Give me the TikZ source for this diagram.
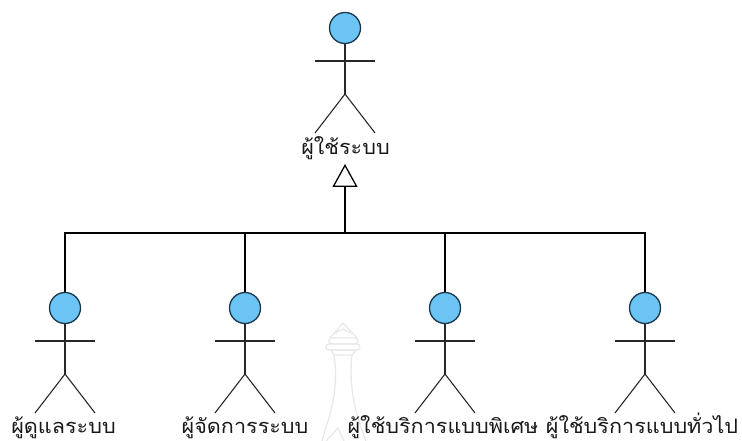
\documentclass[tikz,border=0pt]{standalone}
\usepackage{fontspec}
\newfontfamily\thaifont[Script=Thai,FakeStretch=1.08]{Loma}
\usetikzlibrary{arrows.meta}
\definecolor{headblue}{RGB}{108,196,245}
\definecolor{headline}{RGB}{25,55,75}
\definecolor{limb}{RGB}{40,40,40}
\definecolor{wm}{RGB}{232,232,232}
\tikzset{
  head/.style={circle,draw=headline,fill=headblue,line width=1.3pt,minimum size=31pt,inner sep=0pt},
  limbline/.style={draw=limb,line width=1.1pt},
  wire/.style={draw=black,line width=1.1pt},
  actorlabel/.style={font=\thaifont\fontsize{20}{20}\selectfont,inner sep=0pt,anchor=base,text=black!90},
  watermark/.style={draw=wm,line width=1.3pt,line join=round}
}
\newcommand{\actor}[6]{%
  % #1 name, #2 x, #3 head y, #4 label, #5 label baseline y, #6 label x
  \node[head] (#1) at (#2,#3) {};
  \coordinate (#1arml) at (#2-30,#3+33);
  \coordinate (#1armr) at (#2+30,#3+33);
  \coordinate (#1hip) at (#2,#3+66);
  \coordinate (#1legl) at (#2-30,#3+105);
  \coordinate (#1legr) at (#2+30,#3+105);
  \draw[limbline] (#1.south) -- (#1hip);
  \draw[limbline] (#1arml) -- (#1armr);
  \draw[limbline] (#1legl) -- (#1hip) -- (#1legr);
  \node[actorlabel] (#1label) at (#6,#5) {#4};
}
\begin{document}
\begin{tikzpicture}[x=1pt,y=-1pt]
\useasboundingbox (0,0) rectangle (742,441);
% watermark
\draw[watermark] (330,338) -- (343,323) -- (357,338);
\draw[watermark] (335,333) -- (343,329) -- (351,333);
\draw[watermark,rounded corners=3pt] (329,338) rectangle (358,344);
\draw[watermark,rounded corners=3pt] (326,344) rectangle (360,350);
\draw[watermark] (331,350) -- (356,350) -- (352,355) -- (334,355) -- cycle;
\draw[watermark] (334,355) .. controls (338,380) and (334,405) .. (325,430) -- (322,441);
\draw[watermark] (352,355) .. controls (349,380) and (353,405) .. (362,430) -- (366,441);
\draw[watermark] (326,441) -- (338,428) -- (344,441);
% actors
\actor{user}{345}{28}{ผู้ใช้ระบบ}{155}{345.5}
\actor{admin}{65}{308}{ผู้ดูแลระบบ}{433.5}{63.5}
\actor{manager}{245}{308}{ผู้จัดการระบบ}{433.5}{245}
\actor{special}{445}{308}{ผู้ใช้บริการแบบพิเศษ}{433.5}{443}
\actor{general}{645}{308}{ผู้ใช้บริการแบบทั่วไป}{433.5}{642}
% generalization
\coordinate (bus) at (345,233);
\coordinate (apex) at (345,164);
\draw[wire,-{Triangle[open,length=23pt,width=25pt,line width=1.3pt]}] (bus) -- (apex);
\draw[wire] (admin.north) |- (bus);
\draw[wire] (manager.north) |- (bus);
\draw[wire] (special.north) |- (bus);
\draw[wire] (general.north) |- (bus);
\end{tikzpicture}
\end{document}
